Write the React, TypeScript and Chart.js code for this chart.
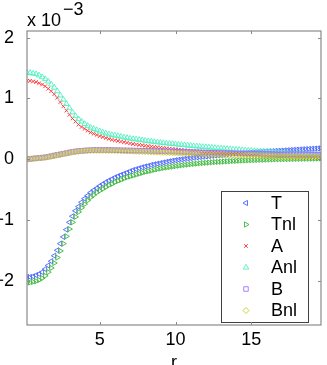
import React, { useEffect, useRef } from 'react';
import { Chart, registerables } from 'chart.js';
Chart.register(...registerables);

const R = [
  0.2, 0.4, 0.6, 0.8, 1, 1.2, 1.4, 1.6, 1.8, 2,
  2.2, 2.4, 2.6, 2.8, 3, 3.2, 3.4, 3.6, 3.8, 4,
  4.2, 4.4, 4.6, 4.8, 5, 5.2, 5.4, 5.6, 5.8, 6,
  6.2, 6.4, 6.6, 6.8, 7, 7.2, 7.4, 7.6, 7.8, 8,
  8.2, 8.4, 8.6, 8.8, 9, 9.2, 9.4, 9.6, 9.8, 10,
  10.2, 10.4, 10.6, 10.8, 11, 11.2, 11.4, 11.6, 11.8, 12,
  12.2, 12.4, 12.6, 12.8, 13, 13.2, 13.4, 13.6, 13.8, 14,
  14.2, 14.4, 14.6, 14.8, 15, 15.2, 15.4, 15.6, 15.8, 16,
  16.2, 16.4, 16.6, 16.8, 17, 17.2, 17.4, 17.6, 17.8, 18,
  18.2, 18.4, 18.6, 18.8, 19, 19.2, 19.4, 19.6,
];

const T = [
  -1.94, -1.94, -1.93, -1.91, -1.89, -1.86, -1.81, -1.75, -1.68, -1.59,
  -1.5, -1.39, -1.28, -1.16, -1.04, -0.94, -0.85, -0.78, -0.71, -0.65,
  -0.6, -0.55, -0.51, -0.48, -0.44, -0.41, -0.38, -0.35, -0.33, -0.3,
  -0.28, -0.26, -0.24, -0.22, -0.2, -0.18, -0.165, -0.15, -0.135, -0.12,
  -0.11, -0.095, -0.085, -0.075, -0.065, -0.055, -0.045, -0.035, -0.025, -0.018,
  -0.01, -0.003, 0.004, 0.011, 0.018, 0.024, 0.03, 0.036, 0.041, 0.046,
  0.051, 0.056, 0.061, 0.066, 0.071, 0.075, 0.079, 0.083, 0.087, 0.091,
  0.095, 0.099, 0.103, 0.107, 0.11, 0.114, 0.117, 0.12, 0.123, 0.126,
  0.129, 0.132, 0.135, 0.138, 0.141, 0.144, 0.147, 0.15, 0.153, 0.156,
  0.159, 0.162, 0.165, 0.168, 0.171, 0.174, 0.177, 0.18,
];

const TNL = [
  -2.03, -2.03, -2.02, -2.01, -1.99, -1.96, -1.92, -1.86, -1.79, -1.71,
  -1.62, -1.51, -1.39, -1.27, -1.15, -1.04, -0.95, -0.87, -0.8, -0.74,
  -0.68, -0.63, -0.59, -0.55, -0.52, -0.49, -0.46, -0.43, -0.41, -0.38,
  -0.36, -0.34, -0.32, -0.3, -0.285, -0.27, -0.255, -0.24, -0.225, -0.21,
  -0.2, -0.19, -0.175, -0.165, -0.155, -0.145, -0.137, -0.13, -0.122, -0.115,
  -0.108, -0.101, -0.095, -0.089, -0.083, -0.078, -0.073, -0.068, -0.064, -0.06,
  -0.056, -0.052, -0.048, -0.045, -0.042, -0.039, -0.036, -0.033, -0.03, -0.028,
  -0.025, -0.023, -0.021, -0.019, -0.017, -0.015, -0.013, -0.011, -0.009, -0.008,
  -0.006, -0.005, -0.003, -0.002, -0.001, 0, 0.001, 0.002, 0.003, 0.004,
  0.005, 0.006, 0.007, 0.008, 0.009, 0.01, 0.011, 0.012,
];

const A = [
  1.29, 1.29, 1.28, 1.27, 1.25, 1.23, 1.2, 1.16, 1.12, 1.07,
  1.01, 0.94, 0.87, 0.8, 0.73, 0.67, 0.62, 0.57, 0.53, 0.5,
  0.47, 0.44, 0.42, 0.4, 0.38, 0.365, 0.35, 0.335, 0.32, 0.31,
  0.3, 0.29, 0.28, 0.27, 0.26, 0.25, 0.243, 0.236, 0.229, 0.222,
  0.215, 0.208, 0.202, 0.196, 0.19, 0.184, 0.178, 0.172, 0.167, 0.162,
  0.157, 0.152, 0.147, 0.142, 0.138, 0.133, 0.129, 0.125, 0.121, 0.117,
  0.113, 0.109, 0.106, 0.102, 0.099, 0.096, 0.093, 0.09, 0.087, 0.084,
  0.081, 0.078, 0.076, 0.073, 0.071, 0.068, 0.066, 0.064, 0.062, 0.06,
  0.058, 0.056, 0.054, 0.052, 0.05, 0.048, 0.046, 0.045, 0.043, 0.041,
  0.04, 0.038, 0.037, 0.035, 0.034, 0.032, 0.031, 0.03,
];

const ANL = [
  1.42, 1.42, 1.41, 1.4, 1.38, 1.35, 1.32, 1.28, 1.23, 1.18,
  1.12, 1.05, 0.98, 0.91, 0.84, 0.77, 0.71, 0.66, 0.62, 0.58,
  0.55, 0.52, 0.5, 0.48, 0.46, 0.44, 0.425, 0.41, 0.4, 0.39,
  0.38, 0.37, 0.36, 0.35, 0.34, 0.333, 0.326, 0.319, 0.312, 0.305,
  0.298, 0.291, 0.285, 0.279, 0.273, 0.267, 0.261, 0.256, 0.251, 0.246,
  0.241, 0.236, 0.231, 0.226, 0.221, 0.216, 0.212, 0.207, 0.203, 0.198,
  0.194, 0.19, 0.186, 0.182, 0.178, 0.174, 0.17, 0.166, 0.162, 0.158,
  0.154, 0.15, 0.147, 0.143, 0.14, 0.136, 0.133, 0.129, 0.126, 0.122,
  0.119, 0.116, 0.112, 0.109, 0.106, 0.103, 0.1, 0.097, 0.094, 0.091,
  0.088, 0.085, 0.082, 0.079, 0.076, 0.073, 0.07, 0.067,
];

const B = [
  0, 0.005, 0.01, 0.015, 0.02, 0.025, 0.03, 0.04, 0.05, 0.06,
  0.07, 0.08, 0.09, 0.1, 0.11, 0.12, 0.127, 0.133, 0.138, 0.142,
  0.145, 0.147, 0.149, 0.15, 0.15, 0.15, 0.15, 0.15, 0.149, 0.148,
  0.147, 0.146, 0.145, 0.144, 0.143, 0.142, 0.141, 0.14, 0.139, 0.138,
  0.137, 0.135, 0.134, 0.133, 0.131, 0.13, 0.128, 0.127, 0.125, 0.124,
  0.122, 0.121, 0.119, 0.118, 0.116, 0.115, 0.113, 0.112, 0.11, 0.109,
  0.107, 0.106, 0.104, 0.103, 0.102, 0.1, 0.099, 0.098, 0.097, 0.095,
  0.094, 0.093, 0.092, 0.091, 0.09, 0.089, 0.088, 0.087, 0.086, 0.085,
  0.084, 0.084, 0.083, 0.082, 0.082, 0.081, 0.08, 0.08, 0.079, 0.079,
  0.078, 0.078, 0.077, 0.077, 0.076, 0.076, 0.075, 0.075,
];

const BNL = [
  0, 0.004, 0.008, 0.013, 0.018, 0.023, 0.029, 0.037, 0.046, 0.056,
  0.066, 0.076, 0.086, 0.096, 0.106, 0.115, 0.122, 0.128, 0.133, 0.137,
  0.14, 0.142, 0.143, 0.144, 0.144, 0.144, 0.143, 0.142, 0.141, 0.14,
  0.139, 0.137, 0.136, 0.134, 0.133, 0.131, 0.129, 0.127, 0.125, 0.123,
  0.121, 0.119, 0.117, 0.115, 0.113, 0.111, 0.109, 0.107, 0.105, 0.103,
  0.101, 0.099, 0.097, 0.095, 0.093, 0.091, 0.089, 0.087, 0.085, 0.083,
  0.081, 0.08, 0.078, 0.076, 0.074, 0.073, 0.071, 0.07, 0.068, 0.067,
  0.065, 0.064, 0.062, 0.061, 0.06, 0.058, 0.057, 0.056, 0.055, 0.054,
  0.052, 0.051, 0.05, 0.049, 0.048, 0.047, 0.046, 0.045, 0.044, 0.043,
  0.042, 0.042, 0.041, 0.04, 0.039, 0.038, 0.038, 0.037,
];

const SERIES_NAMES = ['T', 'Tnl', 'A', 'Anl', 'B', 'Bnl'];
const SERIES_VALUES = [T, TNL, A, ANL, B, BNL];
const SERIES_COLORS = ['#4a64ff', '#3cb83c', '#ff3030', '#50f0c0', '#a070ff', '#c8cc20'];
// marker kinds: left triangle, right triangle, x, up triangle, square, diamond
const SERIES_MARKERS = ['triL', 'triR', 'x', 'triU', 'sq', 'dia'];

const X_TICKS = [5, 10, 15];
const Y_TICKS = [-2, -1, 0, 1, 2];
const X_MIN = 0.2;
const X_MAX = 19.6;
const Y_MIN = -2.73;
const Y_MAX = 2.11;
const X_TITLE = 'r';
const EXP_BASE = 'x 10';
const EXP_POWER = '\u22123';

const FONT = '"Liberation Sans", Arial, Helvetica, sans-serif';
const AXIS_COLOR = '#8a8a8a';

function markerProps(kind: string) {
  switch (kind) {
    case 'triL': return { pointStyle: 'triangle', rotation: -90, radius: 3 };
    case 'triR': return { pointStyle: 'triangle', rotation: 90, radius: 3 };
    case 'x': return { pointStyle: 'crossRot', rotation: 0, radius: 2.6 };
    case 'triU': return { pointStyle: 'triangle', rotation: 0, radius: 3.2 };
    case 'sq': return { pointStyle: 'rect', rotation: 0, radius: 3.2 };
    default: return { pointStyle: 'rectRot', rotation: 0, radius: 3 };
  }
}

function drawLegendMarker(ctx: CanvasRenderingContext2D, kind: string, x: number, y: number) {
  const p = markerProps(kind);
  const r = p.radius;
  ctx.beginPath();
  if (p.pointStyle === 'triangle') {
    let rad = (p.rotation * Math.PI) / 180;
    ctx.moveTo(x + Math.sin(rad) * r, y - Math.cos(rad) * r);
    rad += (2 * Math.PI) / 3;
    ctx.lineTo(x + Math.sin(rad) * r, y - Math.cos(rad) * r);
    rad += (2 * Math.PI) / 3;
    ctx.lineTo(x + Math.sin(rad) * r, y - Math.cos(rad) * r);
    ctx.closePath();
  } else if (p.pointStyle === 'crossRot') {
    const d = r * Math.SQRT1_2;
    ctx.moveTo(x - d, y - d);
    ctx.lineTo(x + d, y + d);
    ctx.moveTo(x + d, y - d);
    ctx.lineTo(x - d, y + d);
  } else if (p.pointStyle === 'rect') {
    const s = r * Math.SQRT1_2;
    ctx.rect(x - s, y - s, 2 * s, 2 * s);
  } else {
    ctx.moveTo(x, y - r);
    ctx.lineTo(x + r, y);
    ctx.lineTo(x, y + r);
    ctx.lineTo(x - r, y);
    ctx.closePath();
  }
  ctx.stroke();
}

const decorPlugin = {
  id: 'decor',
  afterDatasetsDraw(chart: any) {
    const ctx: CanvasRenderingContext2D = chart.ctx;
    const { left, right, top, bottom } = chart.chartArea;
    const xs = chart.scales.x;
    const ys = chart.scales.y;
    ctx.save();
    // legend box
    const lx0 = 221, ly0 = 191, lw = 87, lh = 131;
    ctx.fillStyle = '#ffffff';
    ctx.fillRect(lx0, ly0, lw, lh);
    ctx.strokeStyle = '#404040';
    ctx.lineWidth = 1;
    ctx.strokeRect(lx0 + 0.5, ly0 + 0.5, lw, lh);
    ctx.font = `18px ${FONT}`;
    ctx.textBaseline = 'middle';
    ctx.textAlign = 'left';
    chart.data.datasets.forEach((ds: any, i: number) => {
      const cy = 203 + i * 21.5;
      ctx.strokeStyle = ds.borderColor;
      ctx.lineWidth = 0.9;
      drawLegendMarker(ctx, SERIES_MARKERS[i], 246, cy);
      ctx.fillStyle = '#000';
      ctx.fillText(ds.label, 271, cy + 1);
    });
    // axes box
    ctx.strokeStyle = AXIS_COLOR;
    ctx.lineWidth = 1.2;
    ctx.strokeRect(left, top, right - left, bottom - top);
    // inward ticks
    ctx.lineWidth = 1;
    const tl = 3;
    ctx.beginPath();
    xs.ticks.forEach((t: any) => {
      const px = Math.round(xs.getPixelForValue(t.value)) + 0.5;
      ctx.moveTo(px, bottom);
      ctx.lineTo(px, bottom - tl);
      ctx.moveTo(px, top);
      ctx.lineTo(px, top + tl);
    });
    ys.ticks.forEach((t: any) => {
      const py = Math.round(ys.getPixelForValue(t.value)) + 0.5;
      ctx.moveTo(left, py);
      ctx.lineTo(left + tl, py);
      ctx.moveTo(right, py);
      ctx.lineTo(right - tl, py);
    });
    ctx.stroke();
    // exponent label
    ctx.fillStyle = '#000';
    ctx.font = `18px ${FONT}`;
    ctx.textBaseline = 'alphabetic';
    ctx.textAlign = 'left';
    ctx.fillText(EXP_BASE, left, 26);
    const w = ctx.measureText(EXP_BASE).width;
    ctx.fillText(EXP_POWER, left + w + 2, 15);
    // x title
    ctx.textAlign = 'center';
    ctx.fillText(X_TITLE, (left + right) / 2, 368);
    ctx.restore();
  },
};

export default function App() {
  const ref = useRef<HTMLCanvasElement | null>(null);
  useEffect(() => {
    document.body.style.margin = '0';
    const canvas = ref.current!;
    const n = SERIES_NAMES.length;
    const datasets = SERIES_NAMES.map((name, i) => {
      const mp = markerProps(SERIES_MARKERS[i]);
      return {
        label: name,
        data: R.map((r, j) => ({ x: r, y: SERIES_VALUES[i][j] })),
        borderColor: SERIES_COLORS[i],
        backgroundColor: 'rgba(0,0,0,0)',
        pointStyle: mp.pointStyle,
        pointRotation: mp.rotation,
        pointRadius: mp.radius,
        pointBorderWidth: 0.9,
        showLine: false,
        order: n - 1 - i,
      };
    });
    const chart = new Chart(canvas, {
      type: 'scatter',
      data: { datasets },
      options: {
        responsive: false,
        animation: false,
        devicePixelRatio: 1,
        layout: { padding: { top: 31, right: 6, left: 0, bottom: 0 } },
        plugins: { legend: { display: false }, tooltip: { enabled: false } },
        scales: {
          x: {
            type: 'linear',
            min: X_MIN,
            max: X_MAX,
            grid: { display: false },
            border: { display: false },
            afterBuildTicks: (s: any) => { s.ticks = X_TICKS.map((v) => ({ value: v })); },
            afterFit: (s: any) => { s.height = 40; },
            ticks: { color: '#000', font: { size: 18, family: FONT }, padding: -4, maxRotation: 0 },
          },
          y: {
            type: 'linear',
            min: Y_MIN,
            max: Y_MAX,
            grid: { display: false },
            border: { display: false },
            afterBuildTicks: (s: any) => { s.ticks = Y_TICKS.map((v) => ({ value: v })); },
            afterFit: (s: any) => { s.width = 27; },
            ticks: {
              color: '#000',
              font: { size: 18, family: FONT },
              padding: 5,
              callback: (v: any) => (v < 0 ? '\u2212' + Math.abs(v) : String(v)),
            },
          },
        },
      },
      plugins: [decorPlugin],
    } as any);
    return () => chart.destroy();
  }, []);
  return (
    <div style={{ width: 327, height: 365 }}>
      <canvas ref={ref} width={327} height={365} style={{ display: 'block' }} />
    </div>
  );
}
